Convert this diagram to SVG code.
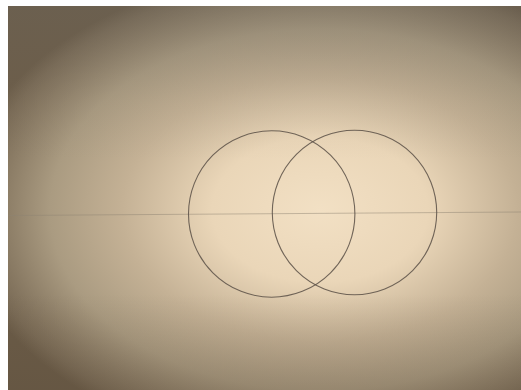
<svg xmlns="http://www.w3.org/2000/svg" width="521" height="390" viewBox="0 0 521 390">
<defs>
<radialGradient id="paper" cx="320" cy="210" r="360" gradientUnits="userSpaceOnUse" gradientTransform="translate(320 210) scale(1 0.67) translate(-320 -210)">
<stop offset="0" stop-color="#f2e0c4"/>
<stop offset="0.3" stop-color="#ead6b8"/>
<stop offset="0.55" stop-color="#c4b195"/>
<stop offset="0.75" stop-color="#aa9b81"/>
<stop offset="0.95" stop-color="#7a6b56"/>
<stop offset="1" stop-color="#6a5b47"/>
</radialGradient>
<linearGradient id="shade" x1="0" y1="0" x2="0" y2="1">
<stop offset="0" stop-color="#6e6a62" stop-opacity="0.3"/>
<stop offset="0.25" stop-color="#7a7266" stop-opacity="0.08"/>
<stop offset="0.4" stop-color="#7a7266" stop-opacity="0"/>
<stop offset="0.75" stop-color="#5a4a38" stop-opacity="0"/>
<stop offset="1" stop-color="#5a4a38" stop-opacity="0.25"/>
</linearGradient>
<style>
.pencil{fill:none;stroke:#5a5046;stroke-width:1.1;opacity:0.85}
.guide{fill:none;stroke:#8d8272;stroke-width:0.8;opacity:0.6}
</style>
</defs>
<rect width="521" height="390" fill="#ffffff"/>
<rect x="8" y="6" width="513" height="384" fill="url(#paper)"/>
<rect x="8" y="6" width="513" height="384" fill="url(#shade)"/>
<g id="connectors">
<line class="guide" x1="8" y1="215.5" x2="521" y2="212"/>
</g>
<g id="circle-left">
<circle class="pencil" cx="271.7" cy="214" r="83.2"/>
</g>
<g id="circle-right">
<circle class="pencil" cx="354.5" cy="212.5" r="82.2"/>
</g>
</svg>
